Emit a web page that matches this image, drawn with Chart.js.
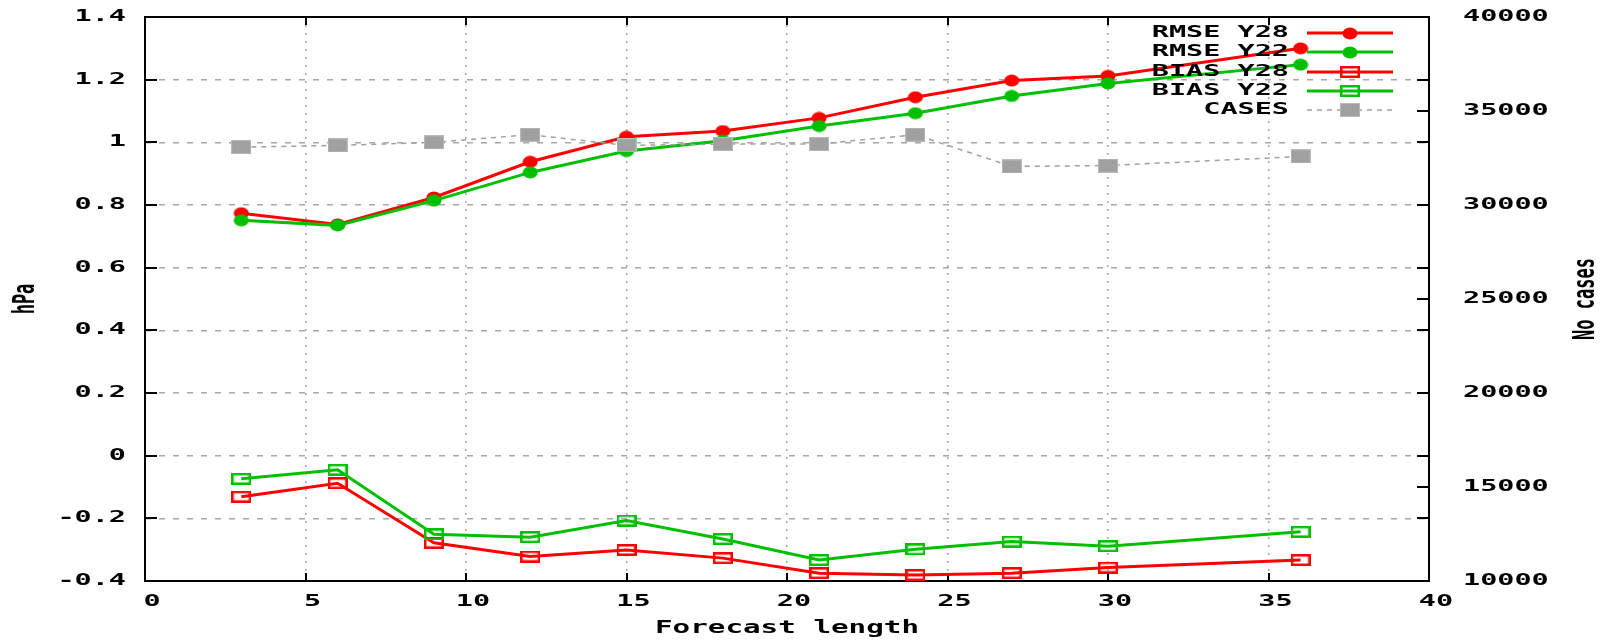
<!DOCTYPE html>
<html>
<head>
<meta charset="utf-8">
<script src="https://cdn.jsdelivr.net/npm/chart.js@4.4.1/dist/chart.umd.min.js"></script>
<style>
  html, body { margin: 0; padding: 0; background: #ffffff; }
  #wrap { width: 1611px; height: 641px; }
</style>
</head>
<body>
<div id="wrap"><canvas id="c" width="1611" height="641"></canvas></div>
<script>
// ---- data ----
const forecastLength = [3, 6, 9, 12, 15, 18, 21, 24, 27, 30, 36];
const rmseY28 = [0.774, 0.738, 0.824, 0.938, 1.018, 1.036, 1.078, 1.144, 1.197, 1.212, 1.300];
const rmseY22 = [0.751, 0.735, 0.814, 0.904, 0.972, 1.005, 1.052, 1.093, 1.148, 1.188, 1.248];
const biasY28 = [-0.131, -0.088, -0.278, -0.322, -0.301, -0.327, -0.375, -0.381, -0.375, -0.357, -0.333];
const biasY22 = [-0.074, -0.045, -0.251, -0.260, -0.207, -0.266, -0.333, -0.299, -0.274, -0.289, -0.243];
const cases   = [33080, 33170, 33330, 33740, 33170, 33240, 33240, 33740, 32050, 32100, 32580];

const seriesNames = ['RMSE Y28', 'RMSE Y22', 'BIAS Y28', 'BIAS Y22', 'CASES'];
const xAxisTitle = 'Forecast length';
const yAxisTitle = 'hPa';
const y2AxisTitle = 'No cases';
const xRange = [0, 40], xStep = 5;
const yRange = [-0.4, 1.4], yStep = 0.2;
const y2Range = [10000, 40000], y2Step = 5000;

// ---- styling ----
const RED = '#ff0000', GREEN = '#00c000', GREY = '#a0a0a0';
const TICK_FONT = 'bold 16px "DejaVu Sans Mono"';
const TICK_SX = 1.78;
const TITLE_FONT = 'bold 17px "DejaVu Sans Mono"';
const TITLE_SX = 1.72;

function makeMarker(w, h, draw) {
  const c = document.createElement('canvas');
  c.width = w; c.height = h;
  draw(c.getContext('2d'), w, h);
  return c;
}
const dot = color => makeMarker(16, 13, (g, w, h) => {
  g.fillStyle = color;
  g.beginPath(); g.ellipse(w / 2, h / 2, w / 2 - 0.5, h / 2 - 0.5, 0, 0, Math.PI * 2); g.fill();
});
const box = color => makeMarker(20, 12, (g, w, h) => {
  g.strokeStyle = color; g.lineWidth = 2.5;
  g.strokeRect(1.25, 1.25, w - 2.5, h - 2.5);
});
const greyBox = makeMarker(20, 14, (g, w, h) => {
  g.fillStyle = GREY; g.fillRect(0, 0, w, h);
  g.strokeStyle = '#b8b8b8'; g.lineWidth = 1; g.strokeRect(0.5, 0.5, w - 1, h - 1);
});

const pts = arr => forecastLength.map((x, i) => ({ x, y: arr[i] }));

const datasets = [
  { label: seriesNames[0], data: pts(rmseY28), yAxisID: 'y', borderColor: RED, borderWidth: 3, pointStyle: dot(RED), order: 5 },
  { label: seriesNames[1], data: pts(rmseY22), yAxisID: 'y', borderColor: GREEN, borderWidth: 3, pointStyle: dot(GREEN), order: 4 },
  { label: seriesNames[2], data: pts(biasY28), yAxisID: 'y', borderColor: RED, borderWidth: 3, pointStyle: box(RED), order: 3 },
  { label: seriesNames[3], data: pts(biasY22), yAxisID: 'y', borderColor: GREEN, borderWidth: 3, pointStyle: box(GREEN), order: 2 },
  { label: seriesNames[4], data: pts(cases), yAxisID: 'y2', borderColor: GREY, borderWidth: 1.5, borderDash: [5, 5], pointStyle: greyBox, order: 1 }
];
datasets.forEach(d => { d.fill = false; d.tension = 0; d.backgroundColor = d.borderColor; d.pointRadius = 6; });

function stretchText(ctx, text, x, y, align, sx, font) {
  ctx.save();
  ctx.font = font; ctx.fillStyle = '#000';
  ctx.textBaseline = 'middle'; ctx.textAlign = align;
  ctx.translate(x, y); ctx.scale(sx, 1);
  ctx.fillText(text, 0, 0);
  ctx.restore();
}
function rotatedText(ctx, text, x, y, sy, font) {
  ctx.save();
  ctx.font = font; ctx.fillStyle = '#000';
  ctx.textBaseline = 'middle'; ctx.textAlign = 'center';
  ctx.translate(x, y); ctx.rotate(-Math.PI / 2); ctx.scale(1, sy);
  ctx.fillText(text, 0, 0);
  ctx.restore();
}
const fmt = v => String(Number(v.toFixed(1)));

const framePlugin = {
  id: 'gnuplotFrame',
  beforeDatasetsDraw(chart) {
    const { ctx, chartArea: a, scales } = chart;
    ctx.save();
    ctx.strokeStyle = '#000'; ctx.lineWidth = 2;
    ctx.beginPath();
    scales.y.ticks.forEach(t => {
      const p = Math.round(scales.y.getPixelForValue(t.value));
      ctx.moveTo(a.left, p); ctx.lineTo(a.left + 12, p);
      ctx.moveTo(a.right, p); ctx.lineTo(a.right - 12, p);
    });
    scales.y2.ticks.forEach(t => {
      const p = Math.round(scales.y2.getPixelForValue(t.value));
      ctx.moveTo(a.right, p); ctx.lineTo(a.right - 12, p);
    });
    scales.x.ticks.forEach(t => {
      const p = Math.round(scales.x.getPixelForValue(t.value));
      ctx.moveTo(p, a.bottom); ctx.lineTo(p, a.bottom - 8);
      ctx.moveTo(p, a.top); ctx.lineTo(p, a.top + 8);
    });
    ctx.stroke();
    ctx.strokeRect(a.left, a.top, a.right - a.left, a.bottom - a.top);
    ctx.restore();

    scales.y.ticks.forEach(t => stretchText(ctx, fmt(t.value), 126, scales.y.getPixelForValue(t.value), 'right', TICK_SX, TICK_FONT));
    scales.y2.ticks.forEach(t => stretchText(ctx, String(Math.round(t.value)), 1463, scales.y2.getPixelForValue(t.value), 'left', TICK_SX, TICK_FONT));
    scales.x.ticks.forEach(t => stretchText(ctx, String(Math.round(t.value)), scales.x.getPixelForValue(t.value) + 7, 602, 'center', TICK_SX, TICK_FONT));

    stretchText(ctx, xAxisTitle, (a.left + a.right) / 2, 629, 'center', TITLE_SX, TITLE_FONT);
    rotatedText(ctx, yAxisTitle, 26, (a.top + a.bottom) / 2, TITLE_SX, TITLE_FONT);
    rotatedText(ctx, y2AxisTitle, 1586, (a.top + a.bottom) / 2, TITLE_SX, TITLE_FONT);
  },
  afterDatasetsDraw(chart) {
    const { ctx } = chart;
    chart.data.datasets.forEach((d, i) => {
      const y = 33 + i * 19.3;
      stretchText(ctx, d.label, 1289, y, 'right', TICK_SX, TICK_FONT);
      ctx.save();
      ctx.strokeStyle = d.borderColor; ctx.lineWidth = d.borderWidth;
      ctx.setLineDash(d.borderDash || []);
      ctx.beginPath(); ctx.moveTo(1307, Math.round(y)); ctx.lineTo(1393, Math.round(y)); ctx.stroke();
      const m = d.pointStyle;
      ctx.drawImage(m, Math.round(1350 - m.width / 2), Math.round(y - m.height / 2));
      ctx.restore();
    });
  }
};

new Chart(document.getElementById('c'), {
  type: 'line',
  data: { datasets },
  options: {
    responsive: false,
    animation: false,
    layout: { padding: { top: 17, left: 0, right: 0, bottom: 0 } },
    plugins: { legend: { display: false }, tooltip: { enabled: false } },
    scales: {
      x: {
        type: 'linear', min: xRange[0], max: xRange[1],
        ticks: { stepSize: xStep, display: false },
        grid: { color: '#a8a8a8', lineWidth: 1.5, drawTicks: false },
        border: { display: false, dash: [2, 6] },
        afterFit: s => { s.height = 60; }
      },
      y: {
        type: 'linear', position: 'left', min: yRange[0], max: yRange[1],
        ticks: { stepSize: yStep, display: false },
        grid: { color: '#a8a8a8', lineWidth: 1.5, drawTicks: false },
        border: { display: false, dash: [6, 8] },
        afterFit: s => { s.width = 145; }
      },
      y2: {
        type: 'linear', position: 'right', min: y2Range[0], max: y2Range[1],
        ticks: { stepSize: y2Step, display: false },
        grid: { display: false, drawTicks: false },
        border: { display: false },
        afterFit: s => { s.width = 182; }
      }
    }
  },
  plugins: [framePlugin]
});
</script>
</body>
</html>
